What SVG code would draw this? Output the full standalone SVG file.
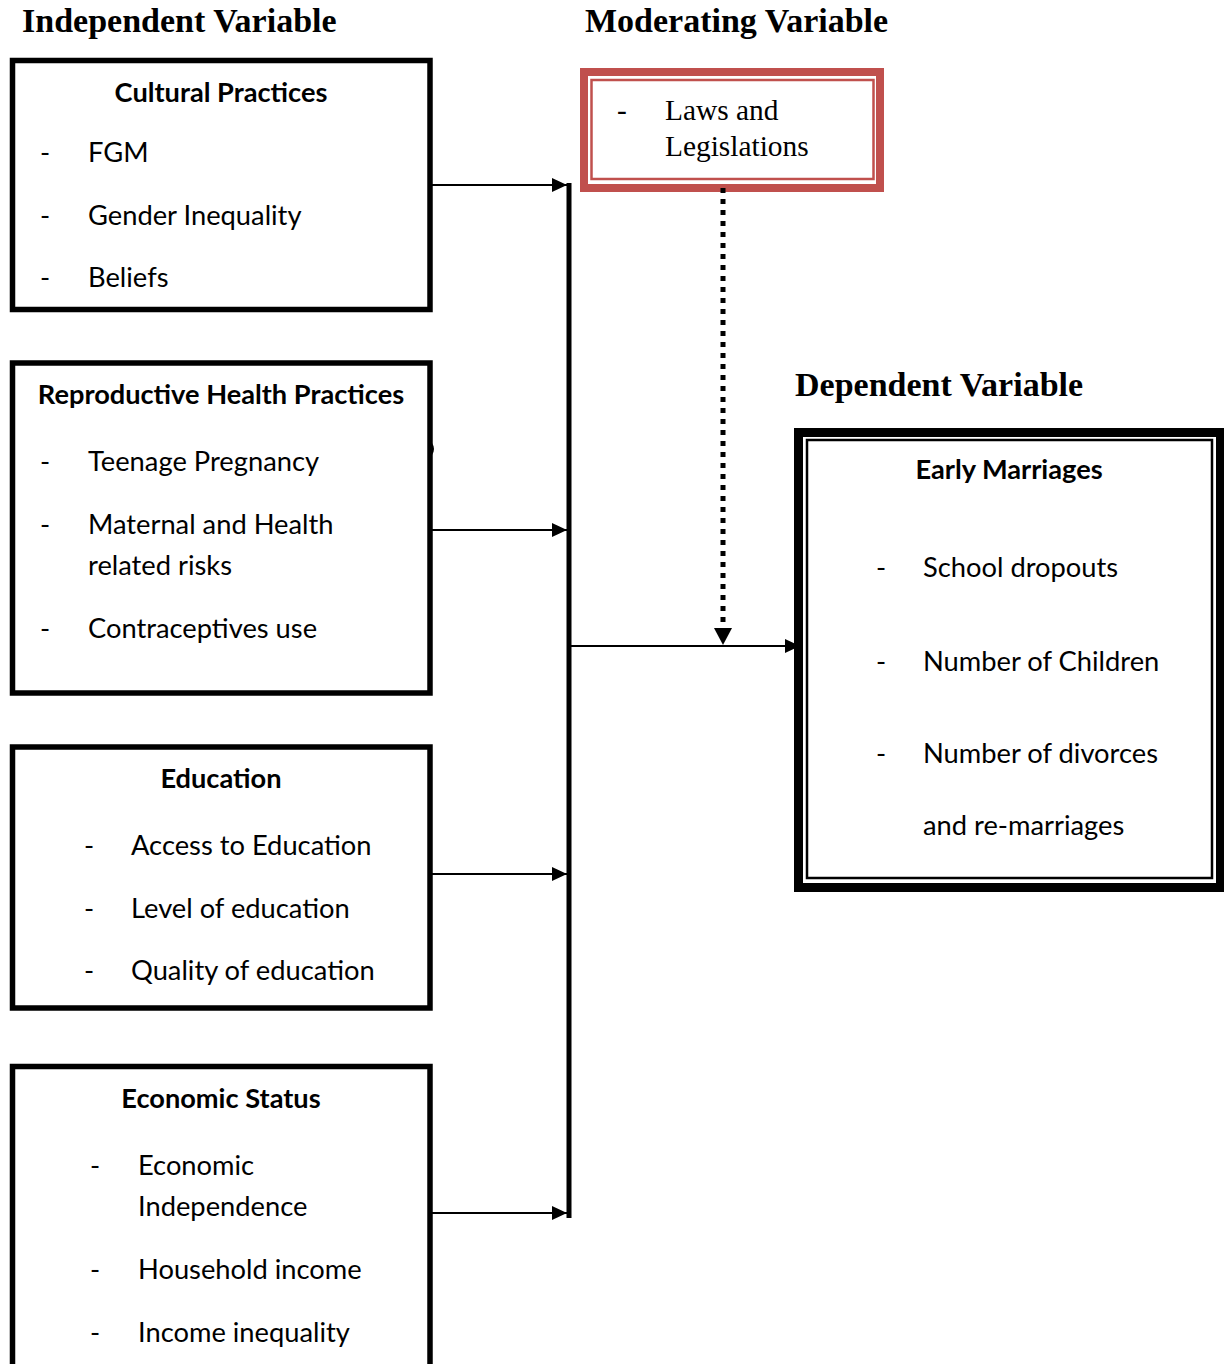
<svg xmlns="http://www.w3.org/2000/svg" width="1224" height="1364" viewBox="0 0 1224 1364">
<style>
.h{font-family:"Liberation Serif","Times New Roman",serif;font-weight:bold;font-size:34px;fill:#000}
.t{font-family:Lato,"Liberation Sans",sans-serif;font-weight:bold;font-size:27.2px;fill:#000}
.i{font-family:Lato,"Liberation Sans",sans-serif;font-size:27.3px;fill:#000}
.m{font-family:"Liberation Serif","Times New Roman",serif;font-size:29.4px;fill:#000}
.box{fill:#fff;stroke:#000;stroke-width:5.5}
.ln{stroke:#000;stroke-width:2;fill:none}
</style>
<defs>
<marker id="ah" markerUnits="userSpaceOnUse" markerWidth="16" markerHeight="16" viewBox="0 0 16 16" refX="15" refY="8" orient="auto">
<path d="M0,1 L15,8 L0,15 z" fill="#000"/>
</marker>
</defs>
<rect width="1224" height="1364" fill="#fff"/>
<g id="headings">
<text class="h" x="22" y="32">Independent Variable</text>
<text class="h" x="585" y="32">Moderating Variable</text>
<text class="h" x="795" y="396">Dependent Variable</text>
</g>
<g id="cultural">
<rect class="box" x="12.5" y="60.5" width="417.5" height="249"/>
<text class="t" x="221" y="102" text-anchor="middle">Cultural Practices</text>
<text class="i" x="40" y="162">-</text><text class="i" x="88" y="162">FGM</text>
<text class="i" x="40" y="225">-</text><text class="i" x="88" y="225">Gender Inequality</text>
<text class="i" x="40" y="287">-</text><text class="i" x="88" y="287">Beliefs</text>
</g>
<g id="reproductive">
<rect class="box" x="12.5" y="363" width="417.5" height="330"/>
<path d="M432,443 Q436,449 432,455 z" fill="#000"/>
<text class="t" x="221" y="404" text-anchor="middle">Reproductive Health Practices</text>
<text class="i" x="40" y="471">-</text><text class="i" x="88" y="471">Teenage Pregnancy</text>
<text class="i" x="40" y="534">-</text><text class="i" x="88" y="534">Maternal and Health</text>
<text class="i" x="88" y="575">related risks</text>
<text class="i" x="40" y="638">-</text><text class="i" x="88" y="638">Contraceptives use</text>
</g>
<g id="education">
<rect class="box" x="12.5" y="747" width="417.5" height="261"/>
<text class="t" x="221" y="788" text-anchor="middle">Education</text>
<text class="i" x="84" y="855">-</text><text class="i" x="131" y="855">Access to Education</text>
<text class="i" x="84" y="918">-</text><text class="i" x="131" y="918">Level of education</text>
<text class="i" x="84" y="980">-</text><text class="i" x="131" y="980">Quality of education</text>
</g>
<g id="economic">
<rect class="box" x="12.5" y="1066.5" width="417.5" height="320"/>
<text class="t" x="221" y="1108" text-anchor="middle">Economic Status</text>
<text class="i" x="90" y="1175">-</text><text class="i" x="138" y="1175">Economic</text>
<text class="i" x="138" y="1216">Independence</text>
<text class="i" x="90" y="1279">-</text><text class="i" x="138" y="1279">Household income</text>
<text class="i" x="90" y="1342">-</text><text class="i" x="138" y="1342">Income inequality</text>
</g>
<g id="moderating">
<rect x="584" y="72" width="296" height="116" fill="#fff" stroke="#C0504D" stroke-width="8"/>
<rect x="591.5" y="80" width="282" height="99" fill="none" stroke="#C0504D" stroke-width="2.5"/>
<text class="m" x="617" y="120">-</text>
<text class="m" x="665" y="120">Laws and</text>
<text class="m" x="665" y="156">Legislations</text>
</g>
<g id="dependent">
<rect x="798.5" y="432.5" width="422" height="455" fill="#fff" stroke="#000" stroke-width="9"/>
<rect x="807" y="440" width="405" height="438" fill="none" stroke="#000" stroke-width="2.5"/>
<text class="t" x="1009" y="479" text-anchor="middle">Early Marriages</text>
<text class="i" x="876" y="577">-</text><text class="i" x="923" y="577">School dropouts</text>
<text class="i" x="876" y="671">-</text><text class="i" x="923" y="671">Number of Children</text>
<text class="i" x="876" y="763">-</text><text class="i" x="923" y="763">Number of divorces</text>
<text class="i" x="923" y="835">and re-marriages</text>
</g>
<g id="connectors">
<line x1="569" y1="183" x2="569" y2="1218" stroke="#000" stroke-width="5"/>
<line class="ln" x1="432" y1="185" x2="567" y2="185" marker-end="url(#ah)"/>
<line class="ln" x1="432" y1="530" x2="567" y2="530" marker-end="url(#ah)"/>
<line class="ln" x1="432" y1="874" x2="567" y2="874" marker-end="url(#ah)"/>
<line class="ln" x1="432" y1="1213" x2="567" y2="1213" marker-end="url(#ah)"/>
<line class="ln" x1="571" y1="646" x2="800" y2="646" marker-end="url(#ah)"/>
<line x1="723" y1="188" x2="723" y2="628" stroke="#000" stroke-width="5" stroke-dasharray="5 6"/>
<polygon points="714,628 732,628 723,645" fill="#000"/>
</g>
</svg>
